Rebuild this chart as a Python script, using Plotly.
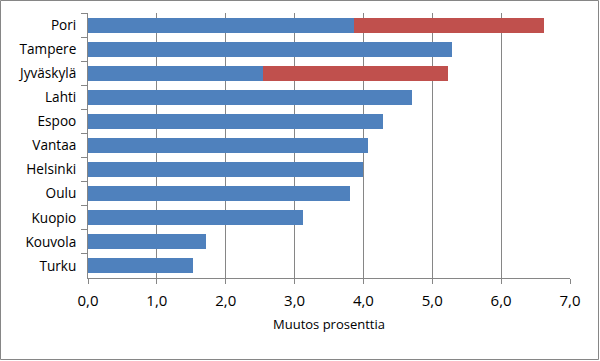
import plotly.graph_objects as go

cities = ["Pori", "Tampere", "Jyväskylä", "Lahti", "Espoo", "Vantaa",
          "Helsinki", "Oulu", "Kuopio", "Kouvola", "Turku"]
base_values = [3.86, 5.29, 2.54, 4.71, 4.29, 4.07, 3.99, 3.80, 3.12, 1.72, 1.53]
extra_values = [2.76, 0, 2.69, 0, 0, 0, 0, 0, 0, 0, 0]
x_ticks = [0, 1, 2, 3, 4, 5, 6, 7]

BLUE = "#4F81BD"
RED = "#C0504D"
GRID = "#868686"

fig = go.Figure()
fig.add_trace(go.Bar(y=cities, x=base_values, orientation="h",
                     marker=dict(color=BLUE, line=dict(width=0)), showlegend=False))
fig.add_trace(go.Bar(y=cities, x=extra_values, orientation="h",
                     marker=dict(color=RED, line=dict(width=0)), showlegend=False))

W, H = 600, 361
ml, mr, mt, mb = 88, 30, 13, 83
pw = W - ml - mr
ph = H - mt - mb

fig.update_layout(
    width=W, height=H, barmode="stack", bargap=0.38,
    margin=dict(l=ml, r=mr, t=mt, b=mb, pad=0, autoexpand=False),
    paper_bgcolor="white", plot_bgcolor="white",
    separators=", ",
    font=dict(family="Open Sans", size=13, color="#000000"),
    xaxis=dict(range=[0, 7], tickvals=x_ticks, tickformat=".1f",
               showgrid=True, gridcolor=GRID, gridwidth=1,
               showline=True, linecolor=GRID, linewidth=1,
               ticks="outside", ticklen=5, tickcolor=GRID,
               tickfont=dict(size=15), ticklabelstandoff=4,
               zeroline=False, automargin=False,
               title=dict(text="Muutos prosenttia", font=dict(size=13), standoff=10)),
    yaxis=dict(autorange="reversed", showline=True, linecolor=GRID, linewidth=1,
               ticks="outside", ticklen=6, tickcolor=GRID, tickson="boundaries",
               showgrid=False, tickfont=dict(size=13.6), ticklabelstandoff=8,
               automargin=False),
    shapes=[dict(type="rect", xref="paper", yref="paper",
                 x0=(0.5 - ml) / pw, x1=(W - 1.5 - ml) / pw,
                 y0=-(H - 1.5 - mt - ph) / ph, y1=1 + (mt - 0.5) / ph,
                 line=dict(color="#868686", width=1))],
)

fig.write_html("out.html", config={"displayModeBar": False},
               post_script="document.body.style.margin='0';document.body.style.padding='0';")
